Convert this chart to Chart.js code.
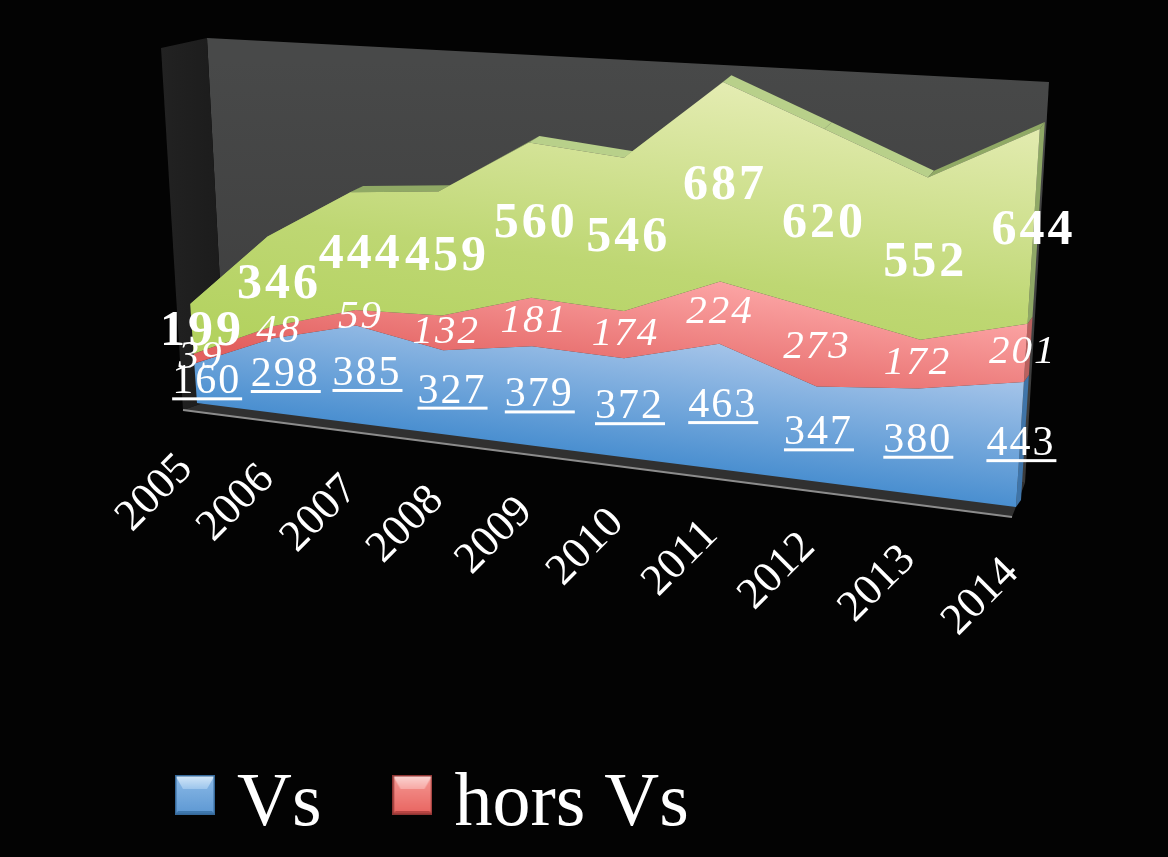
<!DOCTYPE html>
<html><head><meta charset="utf-8">
<style>html,body{margin:0;padding:0;background:#030303;overflow:hidden}canvas{display:block}</style>
<script src="https://cdn.jsdelivr.net/npm/chart.js@4/dist/chart.umd.min.js"></script>
</head><body>
<div style="position:relative;width:1168px;height:857px"><canvas id="c" width="1168" height="857"></canvas></div>
<script>
const categories = ['2005','2006','2007','2008','2009','2010','2011','2012','2013','2014'];
const vs      = [160,298,385,327,379,372,463,347,380,443];
const horsVs  = [39,48,59,132,181,174,224,273,172,201];
const total   = [199,346,444,459,560,546,687,620,552,644];
const seriesNames = ['Vs','hors Vs','Total'];

const FONT = '"Liberation Serif"';
const YMAX = 1400;
// perspective frame of the front plane: unit square -> page
const Q = {p00:[197,403], p10:[1016,507], p11:[1042,94], p01:[172,40]};
const H = (()=>{
  const [x0,y0]=Q.p00,[x1,y1]=Q.p10,[x2,y2]=Q.p11,[x3,y3]=Q.p01;
  const dx1=x1-x2,dx2=x3-x2,sx=x0-x1+x2-x3,dy1=y1-y2,dy2=y3-y2,sy=y0-y1+y2-y3;
  const den=dx1*dy2-dx2*dy1;
  const g=(sx*dy2-dx2*sy)/den,h=(dx1*sy-sx*dy1)/den;
  return {a:x1-x0+g*x1,b:x3-x0+h*x3,c:x0,d:y1-y0+g*y1,e:y3-y0+h*y3,f:y0,g,h};
})();
function project(chart,px,py,back){
  const A=chart.chartArea;
  const u=(px-A.left)/(A.right-A.left), v=(A.bottom-py)/(A.bottom-A.top);
  const w=H.g*u+H.h*v+1;
  let x=(H.a*u+H.b*v+H.c)/w, y=(H.d*u+H.e*v+H.f)/w;
  if(back){x+=15-10*u; y+=-6-1*u;}
  return [x,y];
}
function poly(ctx,pts,fill){ctx.beginPath();pts.forEach((p,i)=>i?ctx.lineTo(p[0],p[1]):ctx.moveTo(p[0],p[1]));ctx.closePath();ctx.fillStyle=fill;ctx.fill();}
function faceGrad(ctx,stops){
  const nx=0.126,ny=-0.992,ax=197,ay=403,d0=stops[0][0],d1=stops[stops.length-1][0];
  const g=ctx.createLinearGradient(ax+nx*d0,ay+ny*d0,ax+nx*d1,ay+ny*d1);
  stops.forEach(s=>g.addColorStop((s[0]-d0)/(d1-d0),s[1]));
  return g;
}
const FACE_STOPS=[
  [[0,'#4a8fd0'],[130,'#a8c6ea']],
  [[60,'#e2605f'],[190,'#fca6a6']],
  [[70,'#b3d25f'],[190,'#bed773'],[385,'#e4ecb2']]
];
const SIDE_COLORS=['#3f74a8','#b9605e','#8fa866'];
const LABEL_FONTS=[`400 42px ${FONT}`,`italic 400 41px ${FONT}`,`700 50px ${FONT}`];
const LABEL_SPACING=['2px','2px','3px'];
const LABEL_DY=[-1,-1,3];
const LABEL_DX=[0,-4,-1];

const perspective={
  id:'perspective',
  beforeDraw(chart){
    const ctx=chart.ctx;
    const lg=chart.legend; lg.left=104; lg.top=680;
    const sx=chart.scales.x, A=chart.chartArea;
    sx.getLabelItems(A).forEach((it,i)=>{
      const px=sx.getPixelForTick(i);
      const [x,y]=project(chart,px,chart.scales.y.getPixelForValue(0));
      const u=(px-A.left)/(A.right-A.left);
      it.options.translation=[x-11+7*u,y+59];
      it.options.textAlign='right'; it.options.textBaseline='middle';
      it.options.rotation=-Math.PI/4; it.textOffset=0;
    });
    sx.top=0; sx.bottom=chart.height;
    const wg=ctx.createLinearGradient(0,60,0,480);
    wg.addColorStop(0,'#484949');wg.addColorStop(1,'#3a3a3a');
    poly(ctx,[[207,38],[1049,82],[1025,483],[226,395]],wg);
    const lw=ctx.createLinearGradient(161,0,226,0);
    lw.addColorStop(0,'#222');lw.addColorStop(1,'#1b1b1b');
    poly(ctx,[[161,48],[207,38],[226,395],[183,410]],lw);
    poly(ctx,[[183,410],[226,395],[1025,483],[1012,517]],'#303030');
    ctx.strokeStyle='#8c8c8c';ctx.lineWidth=2;
    ctx.beginPath();ctx.moveTo(183,410);ctx.lineTo(1012,517);ctx.stroke();
  },
  beforeDatasetsDraw(chart){
    const ctx=chart.ctx, yS=chart.scales.y;
    const metas=[0,1,2].map(i=>chart.getDatasetMeta(i));
    const n=categories.length;
    const base=metas[0].data.map(p=>[p.x,yS.getPixelForValue(0)]);
    const levels=[base,...metas.map(m=>m.data.map(p=>[p.x,p.y]))];
    for(let k=0;k<3;k++){
      const a=levels[k][n-1],b=levels[k+1][n-1];
      poly(ctx,[project(chart,a[0],a[1]),project(chart,b[0],b[1]),project(chart,b[0],b[1],1),project(chart,a[0],a[1],1)],SIDE_COLORS[k]);
    }
    const top=levels[3];
    for(let i=0;i<n-1;i++){
      const a=project(chart,top[i][0],top[i][1]),b=project(chart,top[i+1][0],top[i+1][1]);
      const a2=project(chart,top[i][0],top[i][1],1),b2=project(chart,top[i+1][0],top[i+1][1],1);
      poly(ctx,[a,b,b2,a2],b[1]>a[1]+2?'#b8d08a':'#90a965');
    }
    for(let k=0;k<3;k++){
      const up=levels[k+1].map(p=>project(chart,p[0],p[1]));
      const lo=levels[k].map(p=>project(chart,p[0],p[1])).reverse();
      poly(ctx,up.concat(lo),faceGrad(ctx,FACE_STOPS[k]));
    }
  },
  afterDatasetsDraw(chart){
    const ctx=chart.ctx, yS=chart.scales.y;
    const metas=[0,1,2].map(i=>chart.getDatasetMeta(i));
    const base=metas[0].data.map(p=>yS.getPixelForValue(0));
    const A=chart.chartArea;
    ctx.save();
    ctx.textAlign='center';ctx.textBaseline='middle';ctx.fillStyle='#fff';
    [0,1,2].forEach(k=>{
      const ds=chart.data.datasets[k];
      ctx.font=LABEL_FONTS[k];
      ctx.letterSpacing=LABEL_SPACING[k];
      metas[k].data.forEach((p,i)=>{
        const lower=k?metas[k-1].data[i].y:base[i];
        const [x0,y0]=project(chart,p.x,(p.y+lower)/2);
        const u=(p.x-A.left)/(A.right-A.left);
        const x=x0+10*(1-u)+1+LABEL_DX[k], y=y0+LABEL_DY[k];
        const s=String(ds.data[i]);
        ctx.fillText(s,x,y);
        if(k===0){const w=ctx.measureText(s).width;ctx.fillRect(x-w/2,y+15,w+1,3);}
      });
    });
    ctx.restore();
  }
};

function bevel(t1,t2,mid1,mid2,bottom,edge){
  const c=document.createElement('canvas');c.width=40;c.height=60;
  const g=c.getContext('2d');
  const mg=g.createLinearGradient(0,0,0,40);mg.addColorStop(0,mid1);mg.addColorStop(1,mid2);
  g.fillStyle=mg;g.fillRect(0,0,40,40);
  const tg=g.createLinearGradient(0,0,0,14);tg.addColorStop(0,t1);tg.addColorStop(1,t2);
  g.fillStyle=tg;g.beginPath();g.moveTo(0,0);g.lineTo(40,0);g.lineTo(32,14);g.lineTo(8,14);g.closePath();g.fill();
  g.fillStyle=bottom;g.beginPath();g.moveTo(0,40);g.lineTo(40,40);g.lineTo(37,36);g.lineTo(3,36);g.closePath();g.fill();
  g.strokeStyle=edge;g.lineWidth=1.5;g.strokeRect(.75,.75,38.5,38.5);
  return c;
}
const legendIcons=[
  bevel('#d8eaf9','#9cc5ec','#8dbbe8','#5c97d2','#3f78ae','#36699a'),
  bevel('#fbd8d6','#f7a8a4','#f59a95','#e8635f','#b84543','#8f3533')
];

new Chart(document.getElementById('c'),{
  type:'line',
  data:{labels:categories,datasets:[
    {label:seriesNames[0],data:vs,backgroundColor:'#4f81bd',borderColor:'#4f81bd',fill:false,borderWidth:0,pointRadius:0,tension:0},
    {label:seriesNames[1],data:horsVs,backgroundColor:'#c0504d',borderColor:'#c0504d',fill:false,borderWidth:0,pointRadius:0,tension:0},
    {label:seriesNames[2],data:total,backgroundColor:'#9bbb59',borderColor:'#9bbb59',fill:false,borderWidth:0,pointRadius:0,tension:0}
  ]},
  options:{
    responsive:false,animation:false,devicePixelRatio:1,
    layout:{padding:{left:104,right:0,top:0,bottom:0}},
    scales:{
      x:{stacked:true,offset:false,grid:{display:false},border:{display:false},
         ticks:{color:'#fff',font:{family:FONT,size:44},minRotation:45,maxRotation:45,autoSkip:false}},
      y:{stacked:true,display:false,min:0,max:YMAX}
    },
    plugins:{
      tooltip:{enabled:false},
      legend:{position:'bottom',align:'start',
        labels:{color:'#fff',font:{family:FONT,size:76},boxWidth:8,boxHeight:40,usePointStyle:true,padding:87,
          generateLabels:()=>[0,1].map(i=>({text:seriesNames[i],pointStyle:legendIcons[i],fontColor:'#fff',datasetIndex:i,hidden:false,lineWidth:0,strokeStyle:'transparent',fillStyle:'transparent'}))}}
    }
  },
  plugins:[perspective]
});
</script>
</body></html>
